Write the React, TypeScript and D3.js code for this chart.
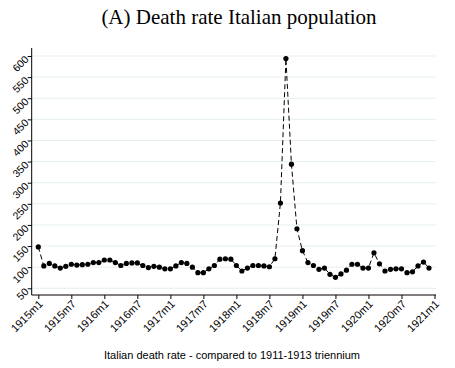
import React, { useEffect, useRef } from 'react';
import * as d3 from 'd3';

// monthly values, 1915m1 .. 1920m12
const deathRate: number[] = [
  148, 103, 109, 103, 98, 102, 107, 105, 106, 107, 111, 111,
  117, 117, 111, 104, 109, 110, 110, 104, 99, 102, 100, 96,
  96, 103, 111, 109, 100, 87, 87, 96, 104, 119, 120, 119,
  104, 91, 98, 104, 104, 103, 101, 120, 252, 594, 344, 191,
  139, 111, 104, 95, 98, 83, 76, 84, 93, 107, 107, 98,
  98, 134, 108, 91, 95, 96, 96, 87, 89, 103, 112, 98
];

const yTicks: number[] = [50, 100, 150, 200, 250, 300, 350, 400, 450, 500, 550, 600];
const xTickLabels: string[] = [
  '1915m1', '1915m7', '1916m1', '1916m7', '1917m1', '1917m7', '1918m1',
  '1918m7', '1919m1', '1919m7', '1920m1', '1920m7', '1921m1'
];

const App: React.FC = () => {
  const svgRef = useRef<SVGSVGElement>(null);
  const width = 455;
  const height = 368;

  useEffect(() => {
    if (!svgRef.current) return;
    const svg = d3.select(svgRef.current);
    svg.selectAll('*').remove();

    const left = 31.7;
    const right = 436;
    const top = 48;
    const bottom = 295;

    const x = d3.scaleLinear().domain([0, 72]).range([38.3, 434.5]);
    const y = d3.scaleLinear().domain([50, 600]).range([288.3, 56]);

    // gridlines
    svg.append('g')
      .selectAll('line')
      .data(yTicks)
      .enter()
      .append('line')
      .attr('x1', left)
      .attr('x2', right)
      .attr('y1', d => y(d))
      .attr('y2', d => y(d))
      .style('stroke', '#e6eff0')
      .style('stroke-width', 1);

    // axes
    const yAxis = d3.axisLeft(y).tickValues(yTicks).tickSize(4).tickFormat(d => String(d));
    const gy = svg.append('g').attr('transform', `translate(${left},0)`).call(yAxis);
    gy.select('.domain').remove();
    gy.append('line').attr('x1', 0).attr('x2', 0).attr('y1', top).attr('y2', bottom)
      .style('stroke', '#000').style('stroke-width', 1);
    gy.selectAll('.tick line').style('stroke', '#000');
    gy.selectAll('.tick text')
      .attr('x', null).attr('dy', null)
      .attr('transform', 'translate(-5,1) rotate(-45)')
      .attr('dy', '0.35em')
      .style('text-anchor', 'end')
      .style('font-family', '"Liberation Sans", Arial, sans-serif')
      .style('font-size', '10.5px')
      .style('fill', '#000');

    const xAxis = d3.axisBottom(x)
      .tickValues(d3.range(0, 73, 6))
      .tickSize(4)
      .tickFormat((d, i) => xTickLabels[i]);
    const gx = svg.append('g').attr('transform', `translate(0,${bottom})`).call(xAxis);
    gx.select('.domain').remove();
    gx.append('line').attr('x1', left).attr('x2', right).attr('y1', 0).attr('y2', 0)
      .style('stroke', '#000').style('stroke-width', 1);
    gx.selectAll('.tick line').style('stroke', '#000');
    gx.selectAll('.tick text')
      .attr('y', null).attr('dy', null)
      .attr('transform', 'translate(2,7) rotate(-45)')
      .attr('dy', '0.35em')
      .style('text-anchor', 'end')
      .style('font-family', '"Liberation Sans", Arial, sans-serif')
      .style('font-size', '11px')
      .style('fill', '#000');

    // line
    const line = d3.line<number>()
      .x((d, i) => x(i))
      .y(d => y(d));

    svg.append('path')
      .datum(deathRate)
      .attr('d', line)
      .style('fill', 'none')
      .style('stroke', '#000')
      .style('stroke-width', 1)
      .style('stroke-dasharray', '5,3');

    svg.append('g')
      .selectAll('circle')
      .data(deathRate)
      .enter()
      .append('circle')
      .attr('cx', (d, i) => x(i))
      .attr('cy', d => y(d))
      .attr('r', 2.6)
      .style('fill', '#000');

    // title
    svg.append('text')
      .attr('x', 239)
      .attr('y', 24)
      .style('text-anchor', 'middle')
      .style('font-family', '"Liberation Serif", "DejaVu Serif", serif')
      .style('font-size', '21px')
      .text('(A) Death rate Italian population');

    svg.append('text')
      .attr('x', 232)
      .attr('y', 359)
      .style('text-anchor', 'middle')
      .style('font-family', '"Liberation Sans", Arial, sans-serif')
      .style('font-size', '11px')
      .text('Italian death rate - compared to 1911-1913 triennium');
  }, []);

  return (
    <div style={{ position: 'absolute', left: 0, top: 0 }}>
      <svg ref={svgRef} width={width} height={height} style={{ display: 'block', background: '#fff' }} />
    </div>
  );
};

export default App;
